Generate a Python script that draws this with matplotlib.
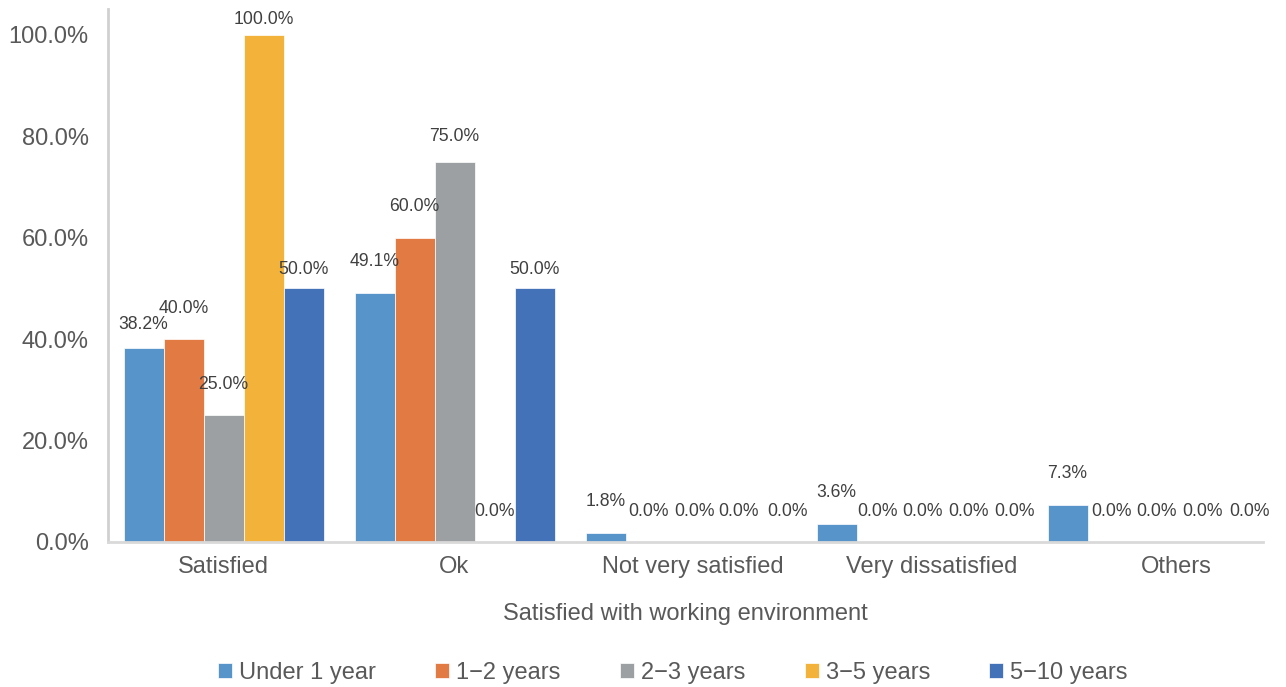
import matplotlib
matplotlib.use("Agg")
import matplotlib.pyplot as plt
import numpy as np

categories = ["Satisfied", "Ok", "Not very satisfied", "Very dissatisfied", "Others"]
series_names = ["Under 1 year", "1\u22122 years", "2\u22123 years", "3\u22125 years", "5\u221210 years"]
under_1_year = [38.2, 49.1, 1.8, 3.6, 7.3]
years_1_2 = [40.0, 60.0, 0.0, 0.0, 0.0]
years_2_3 = [25.0, 75.0, 0.0, 0.0, 0.0]
years_3_5 = [100.0, 0.0, 0.0, 0.0, 0.0]
years_5_10 = [50.0, 50.0, 0.0, 0.0, 0.0]
y_ticks = [0, 20, 40, 60, 80, 100]
x_title = "Satisfied with working environment"

series = [under_1_year, years_1_2, years_2_3, years_3_5, years_5_10]
colors = ["#5694CA", "#E27A43", "#9DA0A3", "#F3B23A", "#4472B8"]

# styling: label offsets in px (vertical centre above bar top, horizontal shift)
v_off = {(0, 0): 24, (0, 3): 15, (0, 4): 19, (1, 2): 25, (1, 4): 19}
h_off = {(2, 1): 3, (2, 2): 9, (2, 3): 13, (2, 4): 22,
         (3, 1): 1, (3, 2): 6, (3, 3): 12, (3, 4): 18,
         (4, 1): 4, (4, 2): 9, (4, 3): 15, (4, 4): 22}
tick_shift_px = [0, 0, 7, 15, 29]

plt.rcParams['font.family'] = ['Liberation Sans', 'DejaVu Sans']

fig = plt.figure(figsize=(12.86, 6.87), dpi=100)
ax = fig.add_axes([108/1286, 1-542/687, (1263-108)/1286, (542-9)/687])

n = len(series)
w = 40/231
x = np.arange(len(categories))
for j, (vals, name, c) in enumerate(zip(series, series_names, colors)):
    xs = x + (j - (n-1)/2) * w
    ax.bar(xs, vals, width=w, color=c, label=name, edgecolor='white', linewidth=0.5)
    for i, (xx, v) in enumerate(zip(xs, vals)):
        dv = v_off.get((i, j), 31)
        dh = h_off.get((i, j), 0)
        ax.annotate(f"{v:.1f}%", (xx, v), xytext=(dh*0.72, dv*0.72), textcoords='offset points',
                    ha='center', va='center', fontsize=12.7, color='#404040')

ax.set_xlim(-0.5, len(categories) - 0.5)
ax.set_ylim(0, 105.1)
ax.set_yticks(y_ticks)
ax.set_yticklabels([f"{t:.1f}%" for t in y_ticks])
ax.set_xticks(x + np.array(tick_shift_px) / 231)
ax.set_xticklabels(categories)
ax.tick_params(axis='y', length=0, pad=14, labelsize=17, labelcolor='#595959')
ax.tick_params(axis='x', length=0, pad=10, labelsize=17, labelcolor='#595959')

for s in ['top', 'right']:
    ax.spines[s].set_visible(False)
ax.spines['left'].set_color('#D0D0D0')
ax.spines['left'].set_linewidth(2)
ax.spines['bottom'].set_color('#D9D9D9')
ax.spines['bottom'].set_linewidth(2)

ax.set_xlabel(x_title, fontsize=17, color='#595959', labelpad=18)

leg = fig.legend(loc='center', bbox_to_anchor=(673/1286, 1-673/687), ncol=5, frameon=False,
                 fontsize=17, handlelength=0.6, handleheight=0.6, handletextpad=0.3,
                 columnspacing=2.5, labelcolor='#595959')

fig.savefig("out.png", dpi=100)
